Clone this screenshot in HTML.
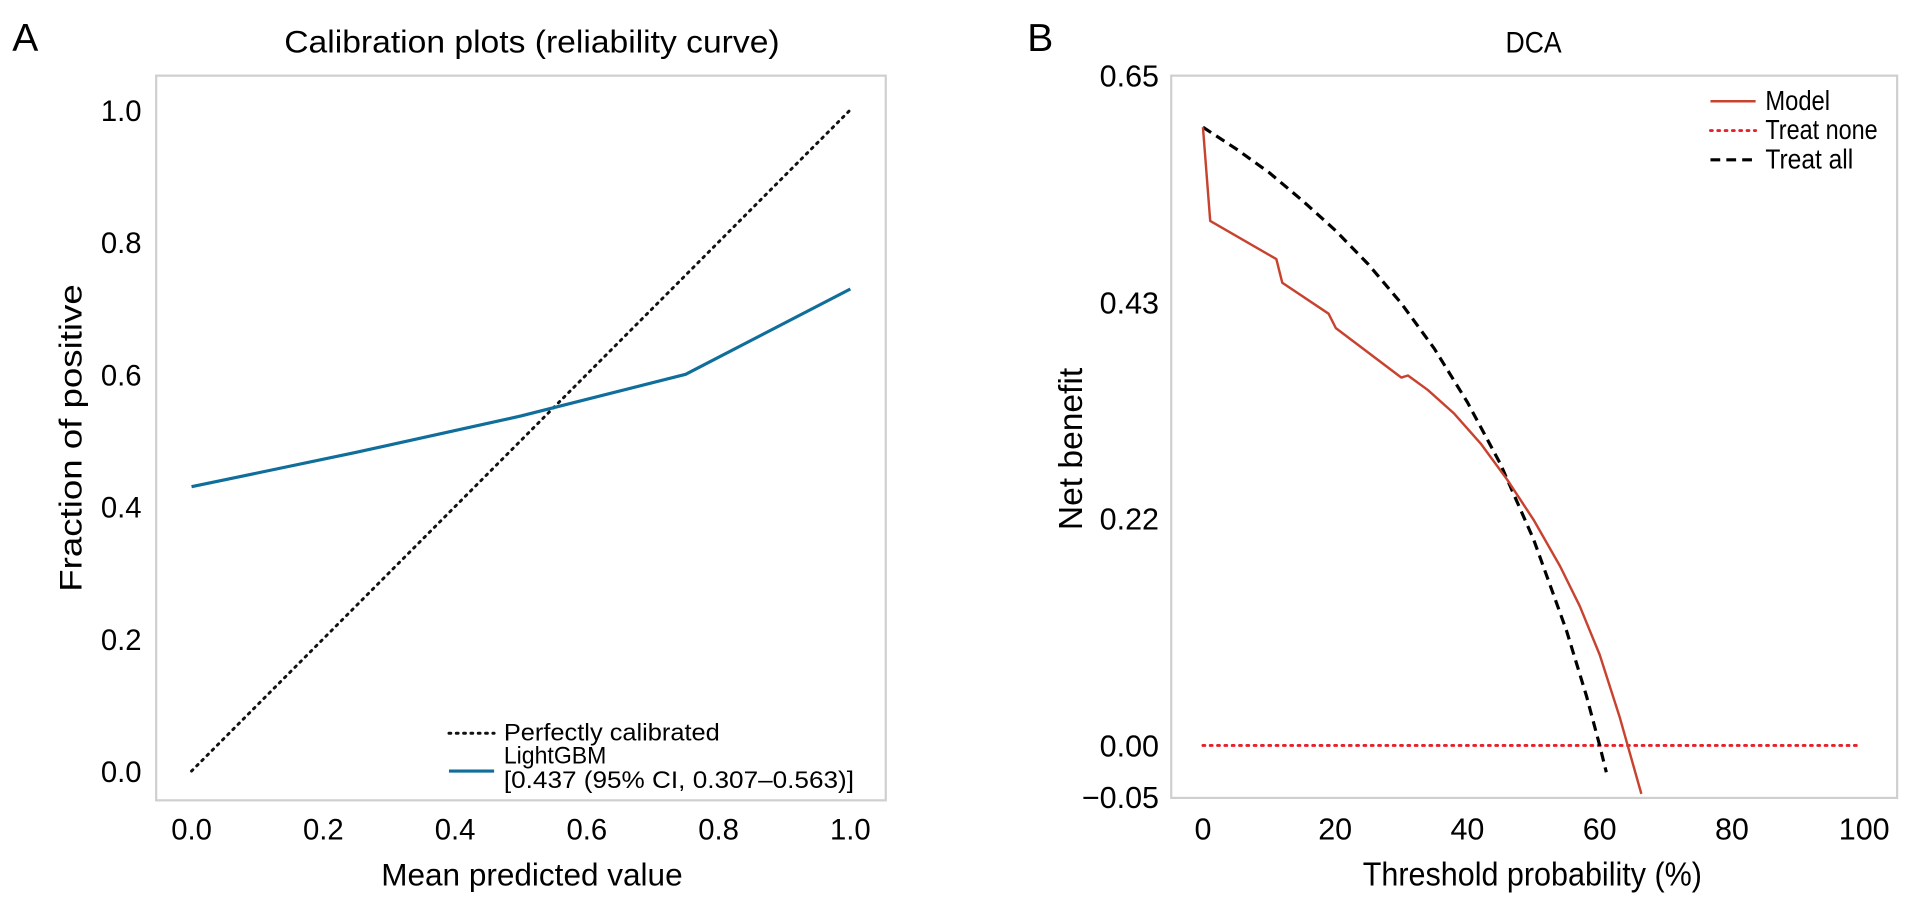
<!DOCTYPE html>
<html><head><meta charset="utf-8">
<style>
html,body{margin:0;padding:0;background:#fff;}
svg{display:block;font-family:"Liberation Sans",Arial,sans-serif;}
</style></head>
<body>
<svg id="fig" width="1913" height="901" viewBox="0 0 1568 738.5" xmlns="http://www.w3.org/2000/svg">
  <rect width="1568" height="738.5" fill="#fff"/>
  <g id="panelA">
    <text x="10" y="42" font-size="32">A</text>
    <text x="436" y="43" font-size="26" text-anchor="middle" textLength="406" lengthAdjust="spacingAndGlyphs">Calibration plots (reliability curve)</text>
    <rect x="128" y="62" width="598" height="594" fill="none" stroke="#cfcfcf" stroke-width="1.8"/>
    <text x="436" y="726" font-size="26" text-anchor="middle" textLength="247" lengthAdjust="spacingAndGlyphs">Mean predicted value</text>
    <text transform="translate(67,359) rotate(-90)" font-size="26" text-anchor="middle" textLength="252" lengthAdjust="spacingAndGlyphs">Fraction of positive</text>
    <g id="axA"></g>
    <g>
      <line x1="368" y1="601" x2="405" y2="601" stroke="#111" stroke-width="2.4" stroke-dasharray="1.5,4.5" stroke-linecap="round"/>
      <text x="413" y="607" font-size="20" textLength="177" lengthAdjust="spacingAndGlyphs">Perfectly calibrated</text>
      <line x1="368" y1="632" x2="405" y2="632" stroke="#0f6e9a" stroke-width="2.6"/>
      <text x="413" y="626" font-size="20" textLength="84" lengthAdjust="spacingAndGlyphs">LightGBM</text>
      <text x="413" y="646" font-size="20" textLength="287" lengthAdjust="spacingAndGlyphs">[0.437 (95% CI, 0.307–0.563)]</text>
    </g>
  </g>
  <g id="panelB">
    <text x="842" y="42" font-size="32">B</text>
    <text x="1257" y="43" font-size="24" text-anchor="middle" textLength="46" lengthAdjust="spacingAndGlyphs">DCA</text>
    <rect x="960" y="62" width="595" height="592" fill="none" stroke="#cfcfcf" stroke-width="1.8"/>
    <text x="1256" y="726" font-size="27" text-anchor="middle" textLength="278" lengthAdjust="spacingAndGlyphs">Threshold probability (%)</text>
    <text transform="translate(887,368) rotate(-90)" font-size="27" text-anchor="middle" textLength="133" lengthAdjust="spacingAndGlyphs">Net benefit</text>
    <g id="axB"></g>
    <g>
      <line x1="1402" y1="83" x2="1439" y2="83" stroke="#c8432f" stroke-width="2"/>
      <text x="1447" y="90" font-size="23" textLength="53" lengthAdjust="spacingAndGlyphs">Model</text>
      <line x1="1402" y1="107" x2="1439" y2="107" stroke="#e8202a" stroke-width="2.4" stroke-dasharray="1.5,4.5" stroke-linecap="round"/>
      <text x="1447" y="114" font-size="23" textLength="92" lengthAdjust="spacingAndGlyphs">Treat none</text>
      <line x1="1402" y1="131" x2="1439" y2="131" stroke="#000" stroke-width="2.6" stroke-dasharray="8,5"/>
      <text x="1447" y="138" font-size="23" textLength="72" lengthAdjust="spacingAndGlyphs">Treat all</text>
    </g>
  </g>
</svg>
<script>
// ---- Panel A data ----
const calX = [0, 0.25, 0.5, 0.75, 1.0];
const calY = [0.43, 0.482, 0.537, 0.60, 0.729];
const perfectX = [0, 1];
const perfectY = [0, 1];
const calXTicks = [0, 0.2, 0.4, 0.6, 0.8, 1.0];
const calXTickLabels = ["0.0","0.2","0.4","0.6","0.8","1.0"];
const calYTicks = [0, 0.2, 0.4, 0.6, 0.8, 1.0];
const calYTickLabels = ["0.0","0.2","0.4","0.6","0.8","1.0"];
// ---- Panel B data ----
const modelT = [0, 1.1, 11.1, 12, 19, 20.1, 30, 31, 34, 38, 42, 46, 50, 54, 57, 60, 63, 66.3];
const modelNB = [0.600, 0.509, 0.472, 0.449, 0.419, 0.405, 0.357, 0.359, 0.345, 0.322, 0.293, 0.258, 0.219, 0.174, 0.135, 0.088, 0.028, -0.047];
const allT = [0, 5, 10, 15, 20, 25, 30, 35, 40, 45, 50, 55, 58, 60, 61];
const allNB = [0.600, 0.579, 0.556, 0.529, 0.500, 0.467, 0.429, 0.385, 0.333, 0.273, 0.200, 0.111, 0.048, 0.000, -0.026];
const noneT = [0, 99];
const noneNB = [0, 0];
const dcaXTicks = [0, 20, 40, 60, 80, 100];
const dcaXTickLabels = ["0","20","40","60","80","100"];
const dcaYTicks = [0.65, 0.43, 0.22, 0.00, -0.05];
const dcaYTickLabels = ["0.65","0.43","0.22","0.00","\u22120.05"];

const NS = "http://www.w3.org/2000/svg";
const xA = v => 157 + v * 540;
const yA = v => 632 - v * 542;
const xB = v => 986 + v * 5.42;
const yB = v => 611 - v * 844.6;

function mk(tag, attrs, parent) {
  const e = document.createElementNS(NS, tag);
  for (const k in attrs) e.setAttribute(k, attrs[k]);
  parent.appendChild(e);
  return e;
}
function pathD(xs, ys, fx, fy) {
  return xs.map((x, i) => (i ? "L" : "M") + fx(x).toFixed(2) + "," + fy(ys[i]).toFixed(2)).join(" ");
}

const axA = document.getElementById("axA");
calXTicks.forEach((v, i) => {
  const t = mk("text", {x: xA(v), y: 688, "font-size": 24, "text-anchor": "middle"}, axA);
  
  
  t.textContent = calXTickLabels[i];
});
calYTicks.forEach((v, i) => {
  const t = mk("text", {x: 116, y: yA(v) + 9, "font-size": 24, "text-anchor": "end"}, axA);
  
  
  t.textContent = calYTickLabels[i];
});
const perf = mk("path", {d: pathD(perfectX, perfectY, xA, yA), fill: "none", stroke: "#111", "stroke-width": 2.4, "stroke-dasharray": "1.5,4.5", "stroke-linecap": "round"}, axA);


const cal = mk("path", {d: pathD(calX, calY, xA, yA), fill: "none", stroke: "#0f6e9a", "stroke-width": 2.6, "stroke-linejoin": "round"}, axA);



const axB = document.getElementById("axB");
dcaXTicks.forEach((v, i) => {
  const t = mk("text", {x: xB(v), y: 688, "font-size": 25, "text-anchor": "middle"}, axB);
  
  
  t.textContent = dcaXTickLabels[i];
});
dcaYTicks.forEach((v, i) => {
  const t = mk("text", {x: 950, y: yB(v) + 9, "font-size": 25, "text-anchor": "end"}, axB);
  
  
  t.textContent = dcaYTickLabels[i];
});
const none = mk("path", {d: pathD(noneT, noneNB, xB, yB), fill: "none", stroke: "#e8202a", "stroke-width": 2.4, "stroke-dasharray": "1.5,4.5", "stroke-linecap": "round"}, axB);


const all = mk("path", {d: pathD(allT, allNB, xB, yB), fill: "none", stroke: "#000", "stroke-width": 2.6, "stroke-dasharray": "8,5"}, axB);


const model = mk("path", {d: pathD(modelT, modelNB, xB, yB), fill: "none", stroke: "#c8432f", "stroke-width": 2, "stroke-linejoin": "round"}, axB);


</script>
</body></html>
